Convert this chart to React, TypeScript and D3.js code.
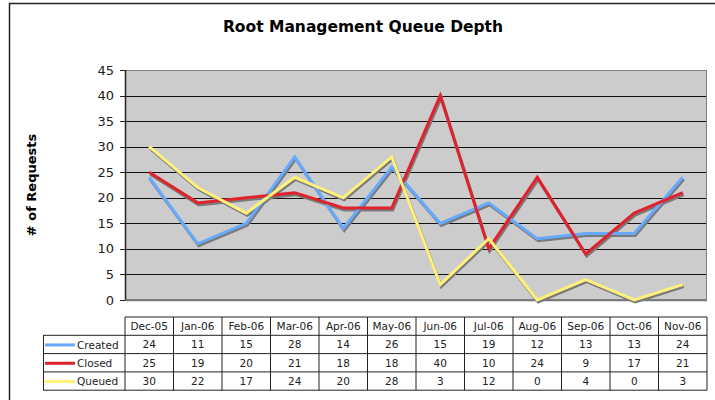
import React from "react";
import * as d3 from "d3";

const months = ["Dec-05", "Jan-06", "Feb-06", "Mar-06", "Apr-06", "May-06", "Jun-06", "Jul-06", "Aug-06", "Sep-06", "Oct-06", "Nov-06"];
const created = [24, 11, 15, 28, 14, 26, 15, 19, 12, 13, 13, 24];
const closed = [25, 19, 20, 21, 18, 18, 40, 10, 24, 9, 17, 21];
const queued = [30, 22, 17, 24, 20, 28, 3, 12, 0, 4, 0, 3];
const yTicks = [0, 5, 10, 15, 20, 25, 30, 35, 40, 45];

const series = [
  { name: "Created", values: created, color: "#66aaff" },
  { name: "Closed", values: closed, color: "#e0222e" },
  { name: "Queued", values: queued, color: "#fff07a" },
];

const App = () => {
  const width = 715;
  const height = 400;
  const left = 125;
  const right = 707;
  const top = 70;
  const bottom = 300;
  const font = "'DejaVu Sans', Verdana, sans-serif";

  const x = d3.scaleBand().domain(months).range([left, right]);
  const y = d3.scaleLinear().domain([0, 45]).range([bottom, top]);

  const line = d3
    .line<number>()
    .x((_, i) => (x(months[i]) as number) + x.bandwidth() / 2)
    .y((d) => y(d));

  // table geometry
  const tTop = 317;
  const rowH = 18.3;
  const legendLeft = 43;

  return (
    <div style={{ position: "fixed", left: 0, top: 0 }}>
      <svg width={width} height={height} style={{ display: "block" }}>
        <rect x={0} y={0} width={width} height={height} fill="#fff" />
        <rect x={9.5} y={3.5} width={720} height={420} fill="#fff" stroke="#222" strokeWidth={1.5} />
        <text x={363} y={32} textAnchor="middle" fontFamily={font} fontWeight="bold" fontSize={15.5} fill="#000">
          Root Management Queue Depth
        </text>

        {/* plot area */}
        <rect x={left} y={top} width={right - left} height={bottom - top} fill="#cccccc" />
        {yTicks.map((t) => (
          <g key={t}>
            {t > 0 && t < 45 && (
              <line x1={left} x2={right} y1={Math.round(y(t)) + 0.5} y2={Math.round(y(t)) + 0.5} stroke="#111" strokeWidth={1} />
            )}
            <line x1={left - 5} x2={left} y1={Math.round(y(t)) + 0.5} y2={Math.round(y(t)) + 0.5} stroke="#222" />
            <text x={114} y={y(t) + 4.5} textAnchor="end" fontFamily={font} fontSize={13} fill="#222">
              {t}
            </text>
          </g>
        ))}
        <rect x={left + 0.5} y={top + 0.5} width={right - left - 1} height={bottom - top - 1} fill="none" stroke="#808080" strokeWidth={1} />
        <line x1={left + 0.5} x2={left + 0.5} y1={top} y2={bottom + 1} stroke="#222" strokeWidth={1.5} />
        <line x1={left} x2={right} y1={bottom + 0.5} y2={bottom + 0.5} stroke="#777" strokeWidth={1.5} />

        <text
          transform={`translate(36,${(top + bottom) / 2}) rotate(-90)`}
          textAnchor="middle"
          fontFamily={font}
          fontWeight="bold"
          fontSize={13}
          fill="#000"
        >
          # of Requests
        </text>

        {/* shadows */}
        {series.map((s) => (
          <path
            key={s.name + "-sh"}
            d={line(s.values) as string}
            transform="translate(1,2)"
            fill="none"
            stroke="#7a7a7a"
            strokeWidth={3}
            strokeLinejoin="miter"
          />
        ))}
        {series.map((s) => (
          <path key={s.name} d={line(s.values) as string} fill="none" stroke={s.color} strokeWidth={3} strokeLinejoin="miter" />
        ))}

        {/* data table */}
        <g fontFamily={font} fontSize={10.5} fill="#222">
          {/* header row */}
          <line x1={left} x2={right} y1={tTop} y2={tTop} stroke="#222" />
          {months.map((m) => (
            <text key={m} x={(x(m) as number) + x.bandwidth() / 2} y={tTop + 13} textAnchor="middle">
              {m}
            </text>
          ))}
          {series.map((s, r) => {
            const ry = tTop + rowH * (r + 1);
            return (
              <g key={s.name}>
                <line x1={legendLeft + 2} x2={legendLeft + 32} y1={ry + rowH / 2 + 0.5} y2={ry + rowH / 2 + 0.5} stroke={s.color} strokeWidth={3} />
                <text x={legendLeft + 34} y={ry + 13.5}>
                  {s.name}
                </text>
                {s.values.map((v, i) => (
                  <text key={i} x={(x(months[i]) as number) + x.bandwidth() / 2} y={ry + 13} textAnchor="middle">
                    {v}
                  </text>
                ))}
              </g>
            );
          })}
          {[1, 2, 3, 4].map((r) => (
            <line key={r} x1={legendLeft} x2={right} y1={tTop + rowH * r} y2={tTop + rowH * r} stroke="#222" />
          ))}
          <line x1={legendLeft + 0.5} x2={legendLeft + 0.5} y1={tTop + rowH} y2={tTop + rowH * 4} stroke="#222" />
          {months.map((m) => (
            <line key={m} x1={(x(m) as number)} x2={(x(m) as number)} y1={tTop} y2={tTop + rowH * 4} stroke="#222" />
          ))}
          <line x1={right} x2={right} y1={tTop} y2={tTop + rowH * 4} stroke="#222" />
        </g>
      </svg>
    </div>
  );
};

export default App;
